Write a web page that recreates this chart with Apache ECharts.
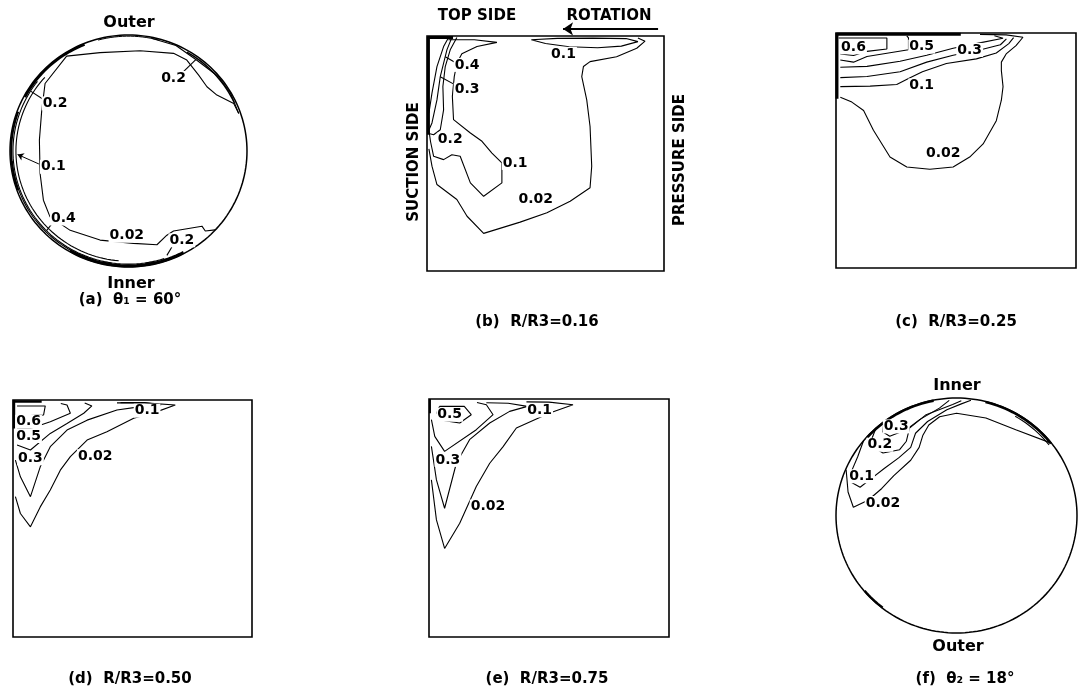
<!DOCTYPE html>
<html><head><meta charset="utf-8">
<script src="https://cdn.jsdelivr.net/npm/echarts/dist/echarts.min.js"></script>
<style>html,body{margin:0;padding:0;background:#fff}#c{width:1079px;height:694px}</style>
</head><body><div id="c"></div>
<script>
// ---------- DATA (coordinates in % of each panel box, v measured from top) ----------
// Panel (a) circle, theta1 = 60 deg
const a_c002 = [[96.5,33.8],[94.4,29.5],[87.3,25.9],[83.1,22.3],[79.6,17.3],[74.6,10.8],[69,7.9],[54.9,6.8],[38,7.6],[23.9,9.1],[14.8,20.9],[13.4,32.4],[12.4,45.3],[12.7,59.7],[14.1,71.2],[16.9,78.4],[25.4,84.2],[38,88.4],[52.1,89.8],[62,90.4],[66.2,86.3],[69,84.5],[81,82.4],[82.4,84.5],[86.5,84]];
const a_c02lobe = [[60,1.5],[70,4.5],[79,11],[88,18],[93,25],[96.5,33.8]];
const a_lead = [[[73.2,15.8],[78.4,10.6]], [[14.1,27.8],[8.7,24.2]], [[18.3,80.6],[15.5,84.2]], [[68.3,91.4],[66.2,95]]];
const a_arrow = [[12.2,55.6],[3.2,51.5]];
// near-wall contours / wall thickening: [startDeg, endDeg, radiusFraction, lineWidth]
const a_arcs = [[0,360,1,1.5],[95,222,0.95,1.1],[72,218,0.975,1.1],[115,175,0.985,1.1],[208,248,0.99,2.5],[160,200,0.99,2],[62,120,0.99,3],[255,285,0.99,1],[300,335,0.985,1.5]];
const a_labels = [['0.2',69,18.5],['0.2',19,29.5],['0.1',18.3,56.8],['0.4',22.5,79.1],['0.02',49.3,86.5],['0.2',72.5,88.5]];

// Panel (b) R/R3 = 0.16
const b_c002 = [[0.8,48],[2.1,55.4],[4.2,63.2],[12.6,69.6],[16.9,76.7],[23.9,84],[39.3,79.2],[50.6,75.2],[60.4,70.3],[68.8,64.6],[69.5,55.4],[68.8,38.5],[67.4,27.2],[65.3,17.3],[66,13],[68.8,10.9],[80,8.8],[88.5,5.2],[92,2.2],[89,0.8]];
const b_c01top = [[44,1.6],[50,3.2],[60,4.6],[72,5],[82,4.3],[89,2.4],[84,1.1],[70,0.9],[55,1],[44,1.6]];
const b_c01 = [[9,1.6],[20,1.6],[29.5,2.7],[21.1,4.5],[14.7,7.6],[12.6,11.6],[11.5,17.3],[10.7,25.7],[11.2,35.6],[18.3,41.3],[23.2,44.8],[27.4,49.8],[31.6,54],[31.6,62.5],[23.9,68.2],[18.3,62.5],[14,51.2],[10.5,50.5],[7,52.6],[2.8,51.2],[1.5,45],[0.8,40]];
const b_c02 = [[12.6,0.6],[9.8,5.9],[7.7,13],[6.7,21.5],[7,31.4],[5.6,39.9],[2.8,42],[0.8,41.5]];
const b_c03 = [[10.5,0.6],[8.4,5.9],[5.6,17.3],[4.2,27.2],[2.1,37],[0.8,40]];
const b_c04 = [[9.1,0.6],[7,4.5],[4.2,13],[2.1,24.3],[0.8,32.8]];
const b_lead = [[[7.7,8.8],[12.3,11.5]], [[5.6,17.3],[11.9,20.8]]];
const b_thick = [[[0.6,0.4],[0.6,42]], [[0.3,0.6],[11,0.6]]];
const b_arrow = [[97.5,-3],[57.4,-3]];
const b_labels = [['0.1',57.6,7.6],['0.4',16.9,12.3],['0.3',16.9,22.9],['0.2',9.8,44.1],['0.1',37.2,54],['0.02',45.9,69.6]];

// Panel (c) R/R3 = 0.25
const c_c002 = [[1.8,27.3],[6.6,29.4],[11.5,33],[15.6,41.4],[22.5,52.8],[29.5,57],[39.1,58],[48.8,57],[55.7,52.8],[61.3,47.2],[66.8,37.3],[68.9,28.6],[69.6,22.8],[68.9,16],[68.9,12.4],[70.9,8.9],[75,5.4],[77.9,1.8],[70.9,0.8],[60,0.6]];
const c_c01 = [[1.8,22.8],[14.2,22.6],[25.3,21.9],[30,19.5],[36,16.5],[46,13],[58.5,11],[66.8,8.5],[72,4.5],[74,2]];
const c_c02 = [[1.8,19],[12.9,18.5],[26.7,16.5],[37.8,12.4],[48.8,9.5],[59.9,7.2],[68.5,5],[71,2.5]];
const c_c03 = [[1.8,14.6],[12.9,14.2],[26.7,12],[37.8,9.5],[48.8,6.5],[59.9,4.2],[69.6,2.2],[66,1.2]];
const c_c05 = [[1.8,11.5],[7.3,12.4],[12.9,10],[30.2,7.1],[30.2,2.1],[29.5,1.2]];
const c_c06 = [[1.1,2.1],[21.2,2.1],[21.2,6.8],[12.9,7.8],[7.3,9.6],[1.8,8.9]];
const c_thick = [[[0.3,0.5],[52,0.5]], [[0.4,0],[0.4,28]]];
const c_labels = [['0.6',7.3,6.1],['0.5',35.7,5.8],['0.3',55.7,7.2],['0.1',35.7,22.3],['0.02',44.7,51.3]];

// Panel (d) R/R3 = 0.50
const d_c002 = [[1,40.8],[3.1,47.9],[7.3,53.5],[11.4,45.1],[15.6,38],[19.8,29.6],[24,23.9],[31,16.9],[39.3,13.4],[50.5,7.7],[60.3,4.9],[67.9,2.1],[55,1.2],[43.5,1.2]];
const d_c01 = [[1,25.4],[3.1,32.4],[7.3,40.8],[11.4,28.2],[15.6,19.7],[22.6,12.7],[31,8.5],[43.5,4.2],[52,3],[62,2],[55,1.1],[45,1.1]];
const d_c03 = [[1.7,19],[7.3,21.1],[15.6,14.1],[22.6,9.9],[29.6,5.6],[33,2.5],[30,1.3]];
const d_c05 = [[1.7,12],[7.3,12],[15.6,9.2],[24,5.6],[22.6,2.1],[20,1.5]];
const d_c06 = [[1.7,2.5],[13.5,2.5],[12.8,6.3],[1.7,6.8]];
const d_thick = [[[0.3,0.6],[12,0.6]], [[0.4,0],[0.4,12]]];
const d_labels = [['0.6',6.5,9.2],['0.5',6.5,15.2],['0.3',7.3,24.6],['0.02',34.4,23.7],['0.1',56.1,4.5]];

// Panel (e) R/R3 = 0.75
const e_c002 = [[1,34],[3.1,50.8],[6.5,62.8],[12.8,52.2],[19.7,36.8],[25.3,27],[30.8,20.1],[36.4,12.2],[50.3,5.9],[60,2.4],[50,1.3],[40.6,1.2]];
const e_c01 = [[1,19.9],[3.1,34],[6.5,45.9],[11.4,27],[16.9,17.1],[25.3,10.1],[33.6,5.2],[41,3.1],[33,1.8],[23.9,1.6]];
const e_c03 = [[1,8.7],[2.4,15.7],[6.5,22],[19.7,12.9],[26.7,6.6],[23.9,2.4],[20,1.5]];
const e_c05 = [[4.4,3.1],[14.7,3.1],[17.6,6.6],[12.8,10.1],[6.5,9.1],[3.1,5.9],[4.4,3.1]];
const e_thick = [[[0.4,0],[0.4,6]]];
const e_labels = [['0.5',8.6,6.6],['0.1',46.1,4.8],['0.3',7.9,25.6],['0.02',24.6,45.2]];

// Panel (f) circle, theta2 = 18 deg
const f_c002 = [[89,19.1],[74.6,13.5],[62.2,8.5],[50,6.5],[43,8],[38.5,11.5],[36,16],[34.5,21],[31,26.5],[24,33],[19,38.5],[13.3,43.5],[7.2,46.5],[5,40],[4.5,34],[4.2,30.5]];
const f_c01 = [[11.5,18],[9,25],[6.5,31],[6.5,36],[10,38],[15,34],[20,30],[26,25.5],[31,21],[33,15],[38,10],[46,5],[52,2.5],[56,1]];
const f_c02 = [[16.5,13],[15,17],[15.5,21],[19.5,23.4],[26.4,22],[29.2,18.4],[30.5,12.8],[37.4,7.1],[48.4,2.8],[52,1.2]];
const f_c03 = [[19.8,10.5],[19.5,14.5],[22.3,16.3],[29.2,13.5],[34.7,9.2],[42.9,4.3],[47,1]];
const f_arcs = [[0,360,1,1.5],[222,259,0.995,2.5],[284,322,0.995,2.5],[128,140,0.995,2.2],[300,322,0.975,1.1]];
const f_labels = [['0.3',25,12.1],['0.2',18.2,19.9],['0.1',10.6,33.3],['0.02',19.5,44.7]];

// Panel boxes (pixels) and texts
const panelBoxes = [[10,35,237,232],[427,36,237,235],[836,33,240,235],[13,400,239,237],[429,399,240,238],[836,398,241,235]];
const squarePanel = [false,true,true,true,true,false];
const texts = [
  ['Outer',129,23,16,0],['Inner',131,284,16,0],['(a)  θ₁ = 60°',130,300,15,0],
  ['TOP SIDE',477,16,15,0],['ROTATION',609,16,15,0],['SUCTION SIDE',414,162,15,90],['PRESSURE SIDE',680,160,15,90],
  ['(b)  R/R3=0.16',537,322,15,0],['(c)  R/R3=0.25',956,322,15,0],
  ['(d)  R/R3=0.50',130,679,15,0],['(e)  R/R3=0.75',547,679,15,0],
  ['Inner',957,386,16,0],['Outer',958,647,16,0],['(f)  θ₂ = 18°',965,679,15,0]
];

// ---------- BUILD ----------
const INK = '#000';
const FONT = '"DejaVu Sans", "Liberation Sans", sans-serif';
const series = [];
function lineS(g, data, w) {
  series.push({type:'line', xAxisIndex:g, yAxisIndex:g, data:data, symbol:'none', showSymbol:false,
    lineStyle:{color:INK, width:w||1.1}, silent:true, animation:false, z:2});
}
function labelS(g, labels) {
  series.push({type:'scatter', xAxisIndex:g, yAxisIndex:g, symbolSize:1, itemStyle:{color:'rgba(0,0,0,0)', opacity:1},
    data: labels.map(l => ({name:l[0], value:[l[1], l[2]]})),
    label:{show:true, position:'inside', formatter:p => p.name, color:INK, opacity:1, fontFamily:FONT, fontWeight:'bold', fontSize:14,
      backgroundColor:'#fff', padding:[0,1]}, silent:true, animation:false, z:5});
}
function arcS(g, arcs) {
  series.push({type:'custom', xAxisIndex:g, yAxisIndex:g, data:arcs, silent:true, animation:false, z:3,
    renderItem:(params, api) => {
      const a0 = api.value(0), a1 = api.value(1), rf = api.value(2), w = api.value(3);
      const n = Math.max(8, Math.ceil(Math.abs(a1 - a0) / 2));
      const pts = [];
      for (let i = 0; i <= n; i++) {
        const a = (a0 + (a1 - a0) * i / n) * Math.PI / 180;
        pts.push(api.coord([50 + 50 * rf * Math.cos(a), 50 + 50 * rf * Math.sin(a)]));
      }
      return {type:'polyline', shape:{points:pts}, style:{fill:null, stroke:INK, lineWidth:w}};
    }});
}
function arrowS(g, coords, size, w) {
  series.push({type:'lines', coordinateSystem:'cartesian2d', xAxisIndex:g, yAxisIndex:g, clip:false,
    data:[{coords:coords}], symbol:['none','arrow'], symbolSize:size,
    lineStyle:{color:INK, width:w, opacity:1, curveness:0}, silent:true, animation:false, z:4});
}

// (a)
arcS(0, a_arcs); lineS(0, a_c002); lineS(0, a_c02lobe);
a_lead.forEach(l => lineS(0, l)); arrowS(0, a_arrow, 6, 1); labelS(0, a_labels);
// (b)
[b_c002, b_c01top, b_c01, b_c02, b_c03, b_c04].forEach(d => lineS(1, d));
b_lead.forEach(l => lineS(1, l)); b_thick.forEach(l => lineS(1, l, 3));
arrowS(1, b_arrow, 10, 2); labelS(1, b_labels);
// (c)
[c_c002, c_c01, c_c02, c_c03, c_c05, c_c06].forEach(d => lineS(2, d));
c_thick.forEach(l => lineS(2, l, 3)); labelS(2, c_labels);
// (d)
[d_c002, d_c01, d_c03, d_c05, d_c06].forEach(d => lineS(3, d));
d_thick.forEach(l => lineS(3, l, 2.5)); labelS(3, d_labels);
// (e)
[e_c002, e_c01, e_c03, e_c05].forEach(d => lineS(4, d));
e_thick.forEach(l => lineS(4, l, 2)); labelS(4, e_labels);
// (f)
arcS(5, f_arcs); [f_c002, f_c01, f_c02, f_c03].forEach(d => lineS(5, d)); labelS(5, f_labels);

const grids = panelBoxes.map((b, i) => ({left:b[0], top:b[1], width:b[2], height:b[3],
  show:squarePanel[i], borderColor:INK, borderWidth:1.6, backgroundColor:'transparent'}));
const xAxes = panelBoxes.map((b, i) => ({type:'value', gridIndex:i, min:0, max:100, show:false}));
const yAxes = panelBoxes.map((b, i) => ({type:'value', gridIndex:i, min:0, max:100, inverse:true, show:false}));
const graphics = texts.map(t => ({type:'text', x:t[1], y:t[2], rotation:t[4] * Math.PI / 180, silent:true,
  style:{text:t[0], fill:INK, font:'bold ' + t[3] + 'px ' + FONT, textAlign:'center', textVerticalAlign:'middle', align:'center', verticalAlign:'middle'}}));

const chart = echarts.init(document.getElementById('c'), null, {renderer:'canvas'});
chart.setOption({animation:false, backgroundColor:'#fff', grid:grids, xAxis:xAxes, yAxis:yAxes, series:series, graphic:graphics});
</script></body></html>
